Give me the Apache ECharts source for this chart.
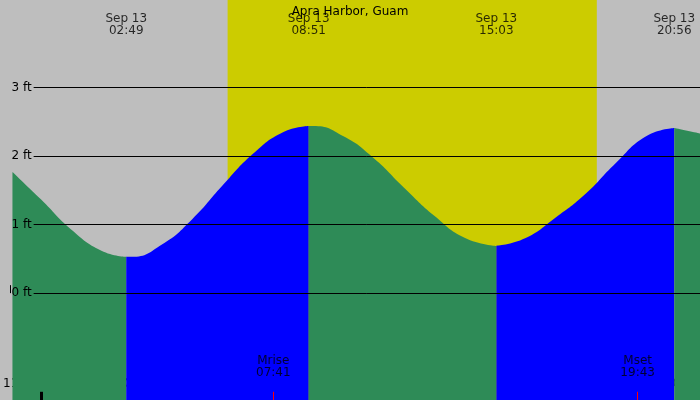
<!DOCTYPE html>
<html><head><meta charset="utf-8">
<script src="https://cdn.jsdelivr.net/npm/echarts@6/dist/echarts.min.js"></script>
<style>html,body{margin:0;padding:0;background:#bebebe}#c{width:700px;height:400px}</style>
</head><body><div id="c"></div>
<script>
const title = "Apra Harbor, Guam";
// tide values [hour of Sep 13, feet]
const fall1 = [[-0.94,1.77],[0,1.37],[1,0.93],[2,0.62],[2.82,0.53]];
const rise1 = [[2.82,0.53],[3,0.53],[4,0.71],[5,1.08],[6,1.57],[7,2.03],[8,2.35],[8.85,2.44]];
const fall2 = [[8.85,2.44],[9,2.44],[10,2.29],[11,1.97],[12,1.54],[13,1.13],[14,0.81],[15.05,0.69]];
const rise2 = [[15.05,0.69],[16,0.80],[17,1.10],[18,1.45],[19,1.90],[20,2.29],[20.93,2.41]];
const fall3 = [[20.93,2.41],[21.78,2.33]];
const extremes = [[2.82,"Sep 13\n02:49"],[8.85,"Sep 13\n08:51"],[15.05,"Sep 13\n15:03"],[20.93,"Sep 13\n20:56"]];
const moon = [[7.68,"Mrise\n07:41"],[19.72,"Mset\n19:43"]];
const daylight = [6.17, 18.37];
const ftLines = [0,1,2,3];
const YMIN=-1.56, YMAX=4.28, XMIN=-1, XMAX=21.78;
const FONT='DejaVu Sans';
function area(d,color){return {type:'line',data:d,smooth:true,symbol:'none',lineStyle:{width:0},areaStyle:{color:color,opacity:1,origin:'start'},z:3,silent:true};}
const hr = h=>{let v=((h%12)+12)%12; if(v===0)v=12; return String(v).padStart(2,'0');};
const chart = echarts.init(document.getElementById('c'));
chart.setOption({
  backgroundColor:'#bebebe',
  animation:false,
  title:{text:title,left:'center',top:1,textStyle:{fontFamily:FONT,fontSize:12,fontWeight:'normal',color:'#000'}},
  grid:{left:-2,right:0,top:0,bottom:0},
  xAxis:{type:'value',min:XMIN,max:XMAX,interval:1,axisLine:{show:false},splitLine:{show:false},
    axisTick:{inside:true,length:8,lineStyle:{color:'#000'}},
    axisLabel:{inside:true,margin:10,fontFamily:FONT,fontSize:12,color:'#000',formatter:v=>hr(v),showMaxLabel:false}},
  yAxis:{type:'value',min:YMIN,max:YMAX,show:false},
  series:[
    {type:'line',data:[],z:1,silent:true,
     markArea:{silent:true,itemStyle:{color:'#cccc00'},data:[[{xAxis:daylight[0]},{xAxis:daylight[1]}]]},
     markLine:{silent:true,symbol:'none',lineStyle:{color:'#000',width:1,type:'solid'},
       label:{show:true,position:'start',distance:2,formatter:p=>p.data.v+' ft',fontFamily:FONT,fontSize:12,color:'#000'},
       data:ftLines.map(v=>[{coord:[-0.24,v],v:v},{coord:[XMAX,v]}])}},
    area(fall1,'#2e8b57'),area(rise1,'#0000ff'),area(fall2,'#2e8b57'),area(rise2,'#0000ff'),area(fall3,'#2e8b57'),
    {type:'scatter',symbolSize:0,z:5,silent:true,data:extremes.map(e=>({value:[e[0],3.91],name:e[1]})),
     label:{show:true,position:'inside',formatter:p=>p.name,fontFamily:FONT,fontSize:12,color:'#000',lineHeight:12}},
    {type:'scatter',symbolSize:0,z:5,silent:true,data:moon.map(e=>({value:[e[0],-1.08],name:e[1]})),
     label:{show:true,position:'inside',formatter:p=>p.name,fontFamily:FONT,fontSize:12,color:'#000',lineHeight:12},
     markLine:{silent:true,symbol:'none',label:{show:false},data:[
       ...moon.map(m=>[{coord:[m[0],YMIN],lineStyle:{color:'#ff0000',width:1,type:'solid'}},{coord:[m[0],YMIN+0.12]}]),
       [{coord:[0,YMIN],lineStyle:{color:'#000',width:3,type:'solid'}},{coord:[0,YMIN+0.12]}]]}}
  ]
});
</script></body></html>
